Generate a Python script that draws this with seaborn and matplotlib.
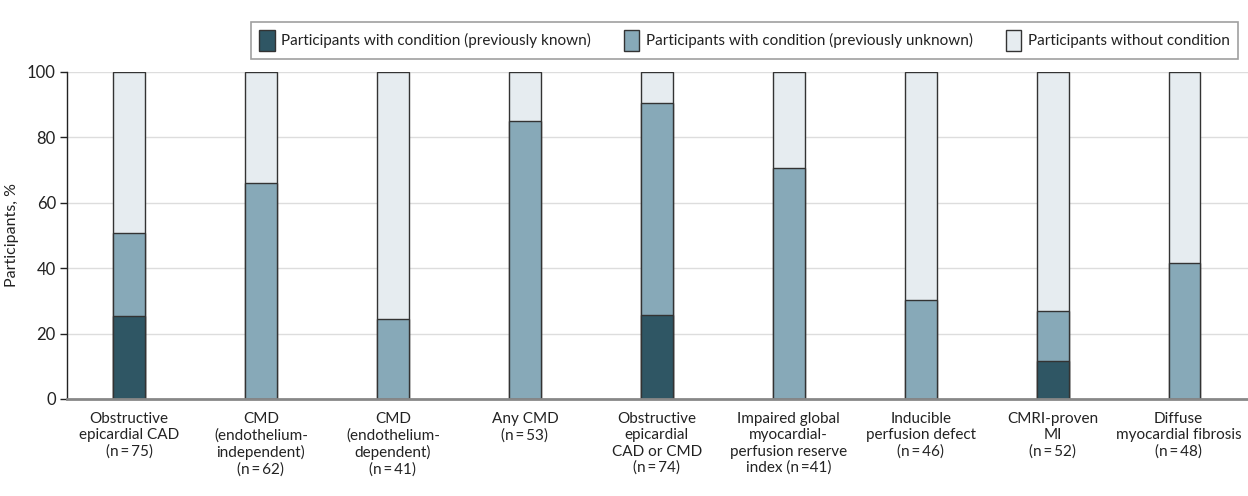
import matplotlib
matplotlib.use('Agg')
import matplotlib.pyplot as plt
import matplotlib.transforms as mtransforms
import seaborn as sns
import pandas as pd
from matplotlib.patches import Patch

categories = ['Obstructive\nepicardial CAD\n(n\u2009=\u200975)',
              'CMD\n(endothelium-\nindependent)\n(n\u2009=\u200962)',
              'CMD\n(endothelium-\ndependent)\n(n\u2009=\u200941)',
              'Any CMD\n(n\u2009=\u200953)',
              'Obstructive\nepicardial\nCAD or CMD\n(n\u2009=\u200974)',
              'Impaired global\nmyocardial-\nperfusion reserve\nindex (n\u2009=41)',
              'Inducible\nperfusion defect\n(n\u2009=\u200946)',
              'CMRI-proven\nMI\n(n\u2009=\u200952)',
              'Diffuse\nmyocardial fibrosis\n(n\u2009=\u200948)']
known = [25.3, 0, 0, 0, 25.7, 0, 0, 11.5, 0]
unknown = [25.4, 66.1, 24.4, 84.9, 64.8, 70.7, 30.4, 15.4, 41.7]
without = [100 - k - u for k, u in zip(known, unknown)]

c_known = '#2f5664'
c_unknown = '#87a9b8'
c_without = '#e6ecf0'

df = pd.DataFrame({'cat': categories, 'known': known, 'unknown': unknown, 'without': without})
df['with_total'] = df['known'] + df['unknown']
df['total'] = df['with_total'] + df['without']

sns.set_style('white')
plt.rcParams['font.family'] = ['Lato', 'DejaVu Sans']

fig = plt.figure(figsize=(12.48, 4.96), dpi=100)
ax = fig.add_axes([0.0537, 0.1956, 0.9463, 0.6593])

w = 0.24
sns.barplot(data=df, x='cat', y='total', color=c_without, saturation=1, width=w, edgecolor='#333333', linewidth=1, ax=ax, zorder=2)
sns.barplot(data=df, x='cat', y='with_total', color=c_unknown, saturation=1, width=w, edgecolor='#333333', linewidth=1, ax=ax, zorder=3)
sns.barplot(data=df, x='cat', y='known', color=c_known, saturation=1, width=w, edgecolor='#333333', linewidth=1, ax=ax, zorder=4)

ax.set_ylim(0, 100)
ax.set_xlim(-0.47, 8.48)
ax.set_yticks([0, 20, 40, 60, 80, 100])
ax.yaxis.grid(True, color='#dddddd', linewidth=1, zorder=0)
ax.set_axisbelow(True)
ax.set_xlabel('')
ax.set_ylabel('Participants, %', fontsize=11.5, color='#222222', labelpad=6)
ax.tick_params(axis='y', left=True, length=5, width=1, labelsize=12, color='#222222', labelcolor='#222222', pad=3)
ax.tick_params(axis='x', bottom=False, labelsize=11, labelcolor='#222222', pad=6)
for spine in ['top', 'right']:
    ax.spines[spine].set_visible(False)
ax.spines['left'].set_color('#222222')
ax.spines['left'].set_linewidth(1)
ax.spines['bottom'].set_color('#888888')
ax.spines['bottom'].set_linewidth(2)
ax.spines['bottom'].set_zorder(6)

# last label sits at the right edge, nudge it left a bit
last = ax.get_xticklabels()[-1]
last.set_transform(last.get_transform() + mtransforms.ScaledTranslation(-6 / 100, 0, fig.dpi_scale_trans))

handles = [Patch(facecolor=c_known, edgecolor='#333333', label='Participants with condition (previously known)'),
           Patch(facecolor=c_unknown, edgecolor='#333333', label='Participants with condition (previously unknown)'),
           Patch(facecolor=c_without, edgecolor='#333333', label='Participants without condition')]
leg = fig.legend(handles=handles, loc='upper right', bbox_to_anchor=(0.998, 0.972), ncol=3,
                 frameon=True, fancybox=False, edgecolor='#888888', fontsize=11,
                 handlelength=1.0, handleheight=1.7, handletextpad=0.4, columnspacing=2.2,
                 borderpad=0.55)
leg.get_frame().set_linewidth(1.2)
for t in leg.get_texts():
    t.set_color('#222222')

fig.savefig('out.png', dpi=100)
plt.close()
